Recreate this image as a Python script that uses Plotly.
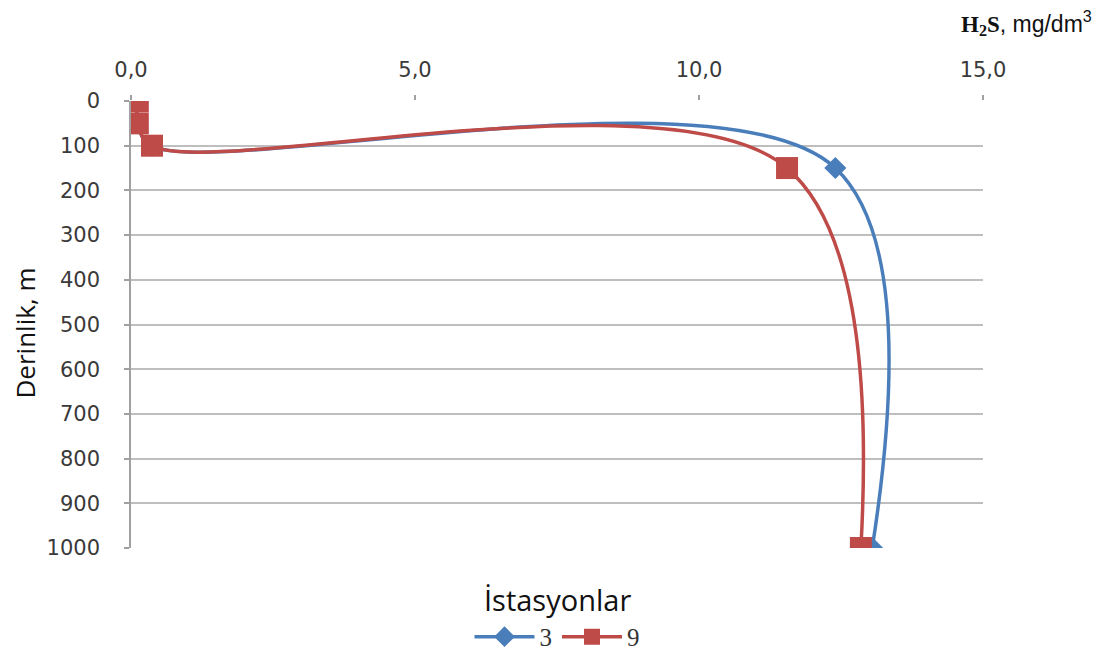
import plotly.graph_objects as go

depth = [0, 50, 100, 150, 1000]
st3 = [0.12, 0.12, 0.37, 12.4, 13.05]
st9 = [0.12, 0.12, 0.37, 11.55, 12.85]
series_names = ["3", "9"]
x_ticks = [0, 5, 10, 15]
x_tick_labels = ["0,0", "5,0", "10,0", "15,0"]
y_ticks = list(range(0, 1001, 100))

BLUE = "#4A7EBB"
RED = "#BE4B48"
GRID = "#BEBEBE"
TICKFONT = dict(family="DejaVu Sans", size=21, color="#3A3A3A")

fig = go.Figure()
fig.add_trace(go.Scatter(
    x=st3, y=depth, name=series_names[0], mode="lines+markers",
    line=dict(color=BLUE, width=3.5, shape="spline", smoothing=1.05),
    marker=dict(symbol="diamond", size=17, color=BLUE),
))
fig.add_trace(go.Scatter(
    x=st9, y=depth, name=series_names[1], mode="lines+markers",
    line=dict(color=RED, width=3.5, shape="spline", smoothing=1.05),
    marker=dict(symbol="square", size=22, color=RED),
))

fig.update_layout(
    width=1111, height=660,
    margin=dict(l=123, r=136, t=93, b=120, autoexpand=False),
    paper_bgcolor="white", plot_bgcolor="white",
    showlegend=True,
    legend=dict(orientation="h", x=0.5, xanchor="center", y=-0.199, yanchor="middle",
                font=dict(family="Liberation Serif", size=25, color="#333333"),
                itemwidth=60, tracegroupgap=0, bgcolor="rgba(0,0,0,0)"),
    xaxis=dict(side="top", range=[0, 15], tickvals=x_ticks, ticktext=x_tick_labels,
               showgrid=False, zeroline=False, showline=False, automargin=False,
               ticks="outside", ticklen=5, tickcolor="#A0A0A0", tickwidth=1.5,
               ticklabelstandoff=10,
               tickfont=TICKFONT, anchor="y"),
    yaxis=dict(range=[1000, 0], tickvals=y_ticks, showgrid=True, gridcolor=GRID,
               gridwidth=1.5, zeroline=False, showline=True, linecolor="#A0A0A0",
               linewidth=1.5, ticks="outside", ticklen=5, tickcolor="#A0A0A0", tickwidth=1.5,
               automargin=False, ticklabelstandoff=20,
               tickfont=TICKFONT),
    annotations=[
        dict(text="Derinlik, m", xref="paper", yref="paper", x=-0.125, y=0.481,
             xanchor="center", yanchor="middle", textangle=-90, showarrow=False,
             font=dict(family="Open Sans", size=26, color="#111111")),
        dict(text="İstasyonlar", xref="paper", yref="paper", x=0.5, y=-0.116,
             xanchor="center", yanchor="middle", showarrow=False,
             font=dict(family="Open Sans", size=29, color="#111111")),
        dict(text="<span style='font-family:Liberation Serif'><b>H<sub>2</sub>S</b></span>, mg/dm<sup>3</sup>",
             xref="paper", yref="paper", x=1.13, y=1.175, xanchor="right", yanchor="middle",
             showarrow=False, font=dict(family="Liberation Sans", size=23, color="#111111")),
    ],
)

fig.write_html("out.html")
